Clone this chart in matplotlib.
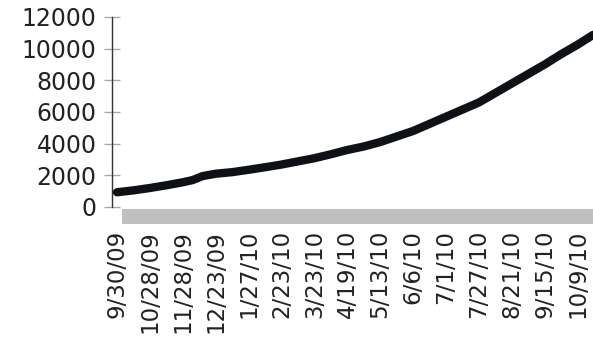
import matplotlib
matplotlib.use("Agg")
import matplotlib.pyplot as plt

# Category labels (shown every category slot)
tick_labels = ["9/30/09", "10/28/09", "11/28/09", "12/23/09", "1/27/10",
               "2/23/10", "3/23/10", "4/19/10", "5/13/10", "6/6/10",
               "7/1/10", "7/27/10", "8/21/10", "9/15/10", "10/9/10"]

# Series: position along the category axis and value
x_pos = [0, 0.5, 1, 1.5, 2, 2.3, 2.6, 3.0, 3.5, 4, 4.5, 5, 5.5, 6, 6.5, 7,
         7.5, 8, 8.5, 9, 9.5, 10, 10.5, 11, 11.5, 12, 12.5, 13, 13.5, 14, 14.47]
values = [930, 1050, 1200, 1370, 1560, 1700, 1950, 2100, 2200, 2350, 2510,
          2680, 2880, 3080, 3330, 3600, 3820, 4100, 4450, 4800, 5250, 5700,
          6150, 6600, 7200, 7800, 8400, 9000, 9650, 10250, 10870]

y_ticks = [0, 2000, 4000, 6000, 8000, 10000, 12000]

W, H = 593, 340
fig = plt.figure(figsize=(W / 100, H / 100), dpi=100)
left_px, right_px, top_px, bottom_px = 112, 593, 17, 224.4
ax = fig.add_axes([left_px / W, 1 - bottom_px / H,
                   (right_px - left_px) / W, (bottom_px - top_px) / H])

ax.set_xlim(-0.152, 14.47)
ax.set_ylim(-1100, 12000)

# floor band
ax.axhspan(-1080, -130, xmin=(122 - left_px) / (right_px - left_px), xmax=1,
           color="#c0c0c0", lw=0, zorder=1)

ax.plot(x_pos, values, color="#0e1116", lw=6, solid_capstyle="round",
        solid_joinstyle="round", zorder=3)

for s in ["top", "right", "bottom"]:
    ax.spines[s].set_visible(False)
ax.spines["left"].set_bounds(0, 12000)
ax.spines["left"].set_color("#333333")
ax.spines["left"].set_linewidth(1)

ax.set_yticks(y_ticks)
ax.set_yticklabels([str(v) for v in y_ticks])
ax.tick_params(axis="y", direction="inout", length=12, width=1,
               color="#aaaaaa", pad=5, labelsize=17, labelcolor="#222222")

ax.set_xticks(range(len(tick_labels)))
ax.set_xticklabels(tick_labels, rotation=90, ha="center", va="top")
ax.tick_params(axis="x", length=0, pad=4, labelsize=16.5, labelcolor="#222222")

fig.savefig("out.png", dpi=100)
